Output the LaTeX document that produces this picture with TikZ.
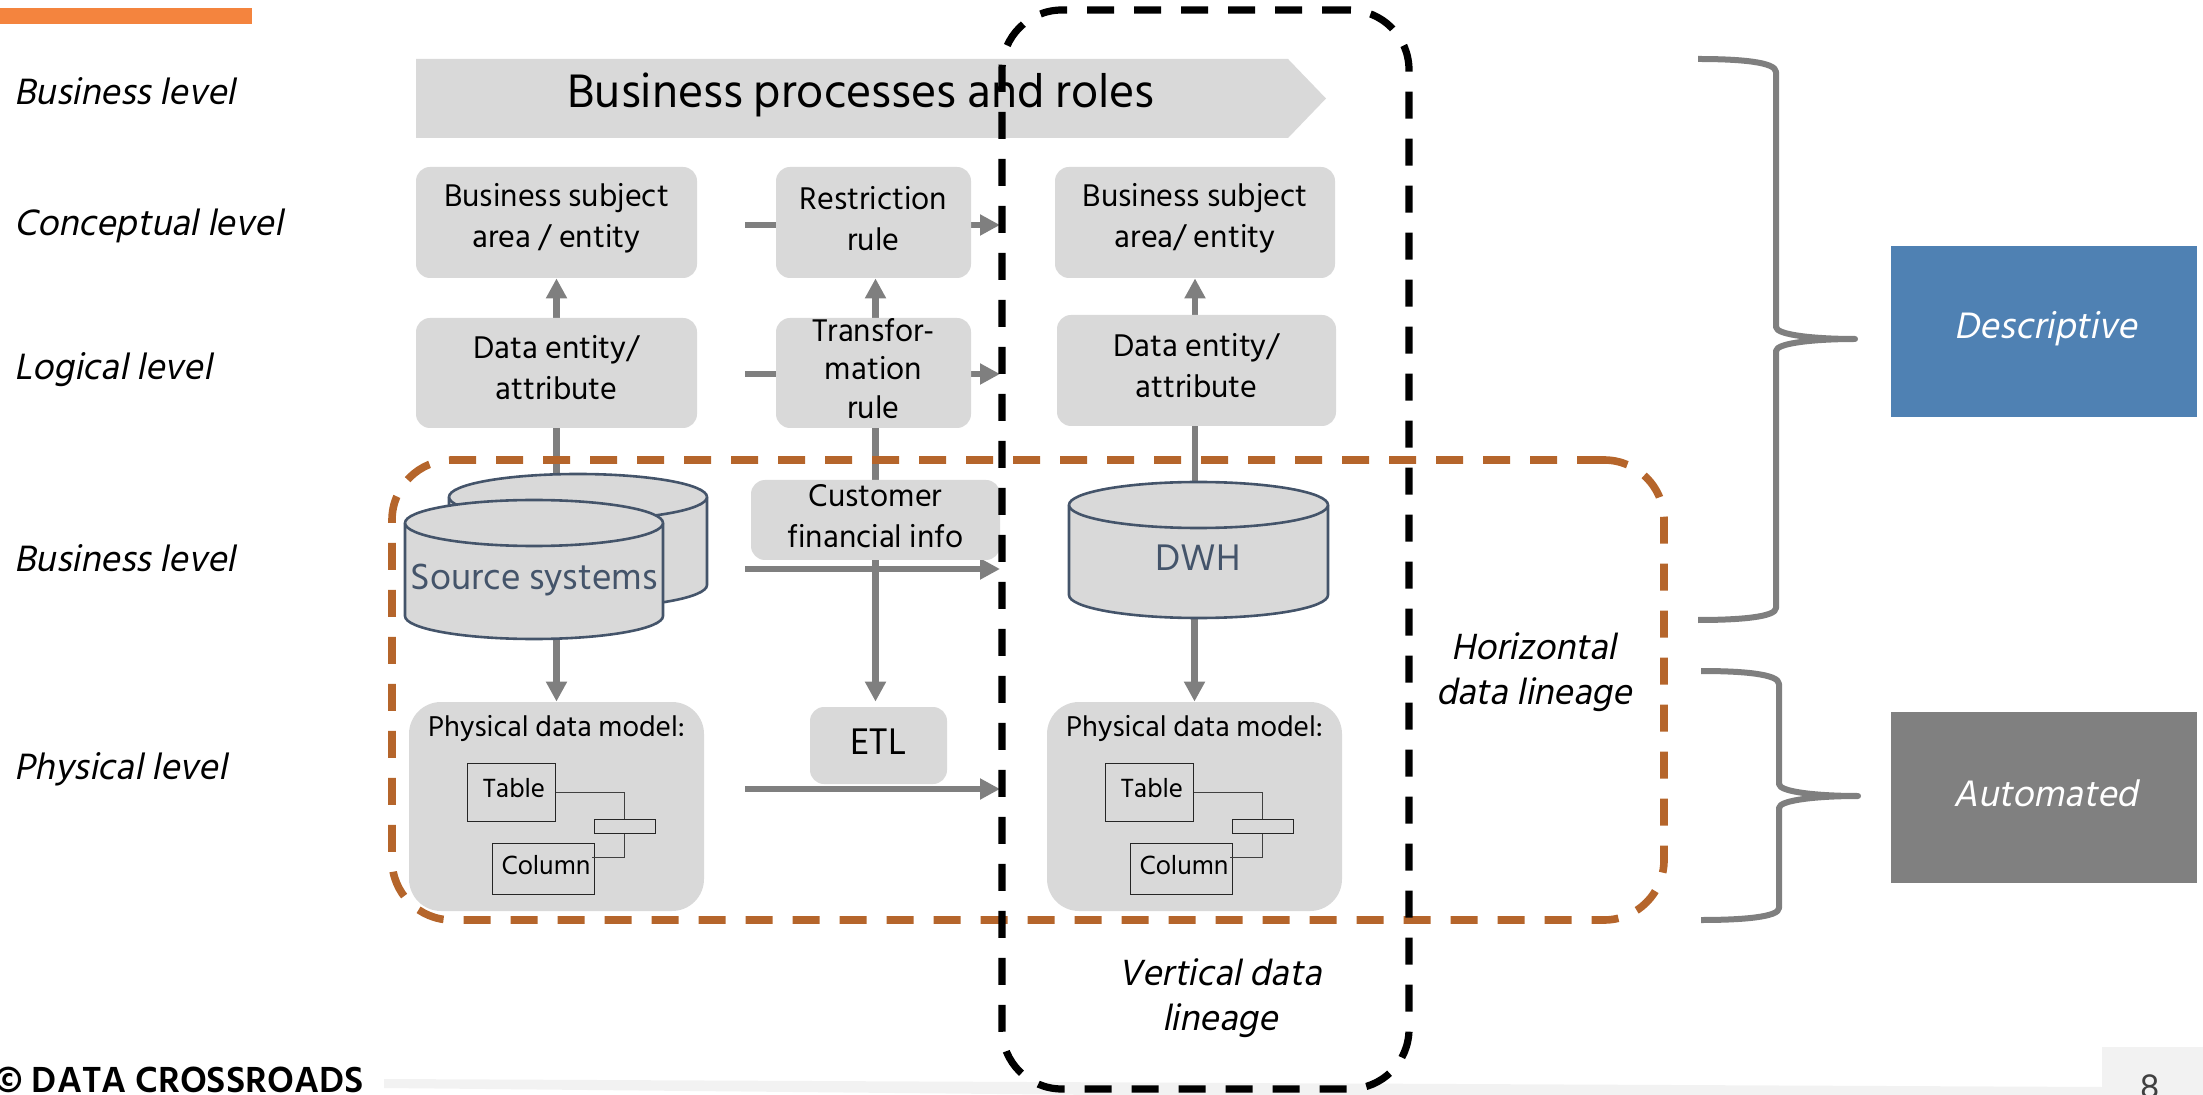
\documentclass[tikz,border=0pt]{standalone}
\usepackage{fontspec}
\setmainfont{Hind Siliguri}
\newfontfamily\hindit[FakeSlant=0.2]{Hind Siliguri}
\usetikzlibrary{fit,arrows.meta,backgrounds}
\definecolor{boxgray}{HTML}{D9D9D9}
\definecolor{linegray}{HTML}{7F7F7F}
\definecolor{slate}{HTML}{44546A}
\definecolor{rust}{HTML}{B5652B}
\definecolor{barorange}{HTML}{F4843E}
\definecolor{bluebox}{HTML}{4F81B3}
\definecolor{pale}{HTML}{F2F2F2}
\newcommand{\fs}[1]{\fontsize{#1}{#1}\selectfont}
\tikzset{
 box/.style={fill=boxgray,rounded corners=7pt,inner sep=0pt},
 boxtext/.style={inner sep=0pt,align=center,font=\fs{16.1}\linespread{1.27}\selectfont},
 bigbox/.style={fill=boxgray,rounded corners=16pt,inner sep=0pt},
 arr/.style={draw=linegray,line width=3.4pt,-{Triangle[length=10pt,width=10pt]}},
 plainline/.style={draw=linegray,line width=3.4pt},
 lvl/.style={anchor=west,inner sep=0pt,font=\hindit\fs{18.8}},
 lincap/.style={inner sep=0pt,align=center,font=\hindit\fs{18.7}\linespread{1.2}\selectfont},
 tag/.style={inner sep=0pt,text=white,font=\hindit\fs{18.9}},
 cyl/.style={fill=boxgray,draw=slate,line width=1.3pt},
 tinybox/.style={draw=black!85,line width=.5pt,fill=boxgray,inner sep=0pt},
 wire/.style={draw=black!75,line width=.5pt},
 brace/.style={draw=linegray,line width=3pt,line join=round},
 dashv/.style={draw=black,line width=3.6pt,rounded corners=30pt,dash pattern=on 13.5pt off 10pt,inner sep=0pt},
 dashh/.style={draw=rust,line width=3.8pt,rounded corners=30pt,dash pattern=on 13.5pt off 10pt,inner sep=0pt},
}
\begin{document}
\begin{tikzpicture}[x=0.5pt,y=-0.5pt]
\clip (0,0) rectangle (2203,1095);
% footer
\fill[pale] (384,1079) -- (2103,1087) -- (2103,1095) -- (1100,1095) -- (384,1088) -- cycle;
\node[fill=pale,minimum width=50.5pt,minimum height=24pt,inner sep=0pt,anchor=north west] (pg) at (2102,1047) {};
\node[inner sep=0pt,text=black!75,font=\fs{18}] (pgn) at (2150,1087) {8};
\node[anchor=west,inner sep=0pt,font=\bfseries\fs{18.6}] (foot) at (-6,1080) {© DATA CROSSROADS};
\node[fill=barorange,inner sep=0pt,minimum width=126pt,minimum height=8pt,anchor=north west] (bar) at (0,8) {};
% level labels
\node[lvl] (l1) at (14,91) {Business level};
\node[lvl] (l2) at (14,226) {Conceptual level};
\node[lvl] (l3) at (14,370) {Logical level};
\node[lvl] (l4) at (14,558) {Business level};
\node[lvl] (l5) at (14,769) {Physical level};
% process banner
\path[fill=boxgray] (416,59) -- (1288,59) -- (1326,98.5) -- (1288,138) -- (416,138) -- cycle;
\node[inner sep=0pt,font=\fs{24.1}] (proc) at (861,95) {Business processes and roles};
% free ends
\coordinate (c1a) at (745,225); \coordinate (c1b) at (1000,225);
\coordinate (c2a) at (745,374); \coordinate (c2b) at (1000,374);
\coordinate (c3a) at (745,569); \coordinate (c3b) at (1000,569);
\coordinate (c4a) at (745,789); \coordinate (c4b) at (1000,789);
\coordinate (midx) at (875.5,0);
% boxes
\node[box,fit={(416,167)(697,278)},label={[boxtext,yshift=2.1pt]center:{Business subject\\area / entity}}] (bsa1) {};
\node[box,fit={(776,167)(971,278)},label={[boxtext,yshift=2.1pt]center:{Restriction\\rule}}] (rr) {};
\node[box,fit={(1055,167)(1335,278)},label={[boxtext,yshift=2.1pt]center:{Business subject\\area/ entity}}] (bsa2) {};
\node[box,fit={(416,318)(697,428)},label={[boxtext,yshift=2.8pt]center:{Data entity/\\attribute}}] (de1) {};
\node[box,fit={(776,318)(971,428)},label={[boxtext,yshift=2.2pt,font=\fs{16.1}\linespread{1.2}\selectfont]center:{Transfor-\\mation\\rule}}] (tr) {};
\node[box,fit={(1057,315)(1336,426)},label={[boxtext,yshift=2.5pt]center:{Data entity/\\attribute}}] (de2) {};
\node[box,fit={(751,480)(1000,560)},label={[boxtext,yshift=2.1pt]center:{Customer\\financial info}}] (cust) {};
\node[box,fit={(810,707)(947,784)},label={[boxtext,yshift=2.1pt,font=\fs{19}]center:{ETL}}] (etl) {};
% cylinders
\path[cyl] (449,497) -- (449,585) arc[start angle=180,end angle=360,x radius=129,y radius=-23] -- (707,497) arc[start angle=0,end angle=180,x radius=129,y radius=-23] -- cycle;
\path[cyl] (449,497) arc[start angle=180,end angle=360,x radius=129,y radius=-23];
\path[cyl] (405,523) -- (405,616) arc[start angle=180,end angle=360,x radius=129,y radius=-23] -- (663,523) arc[start angle=0,end angle=180,x radius=129,y radius=-23] -- cycle;
\path[cyl] (405,523) arc[start angle=180,end angle=360,x radius=129,y radius=-23];
\node[inner sep=0pt,text=slate,font=\fs{18.7}] (src) at (534,580) {Source systems};
\path[cyl] (1069,505) -- (1069,595) arc[start angle=180,end angle=360,x radius=129.5,y radius=-23] -- (1328,505) arc[start angle=0,end angle=180,x radius=129.5,y radius=-23] -- cycle;
\path[cyl] (1069,505) arc[start angle=180,end angle=360,x radius=129.5,y radius=-23];
\node[inner sep=0pt,text=slate,font=\fs{19}] (dwh) at (1198,558) {DWH};
\coordinate (srcbot) at (534,639); \coordinate (srctop) at (534,475);
\coordinate (dwhbot) at (1198,618); \coordinate (dwhtop) at (1198,482);
% physical models
\foreach \nm/\dx in {a/0,b/638}{
 \begin{scope}[xshift=\dx*0.5pt]
 \node[bigbox,fit={(409,702)(704,911)}] (pm\nm) {};
 \node[inner sep=0pt,font=\fs{14.7}] (pmt\nm) at (556.5,729) {Physical data model:};
 \node[tinybox,fit={(467.5,763)(555,821)}] (tb\nm) {};
 \node[inner sep=0pt,font=\fs{13.5}] (tbt\nm) at (514,788) {Table};
 \node[tinybox,fit={(492,843)(594,894)}] (cl\nm) {};
 \node[inner sep=0pt,font=\fs{13.5}] (clt\nm) at (546,865) {Column};
 \node[tinybox,fit={(594,819)(655,833)}] (rl\nm) {};
 \draw[wire] (tb\nm.east) -| (rl\nm.north);
 \draw[wire] (rl\nm.south) |- (592,857);
 \end{scope}
}
% connectors beneath the boxes
\begin{scope}[on background layer]
\draw[arr] (c1a) -- (c1b);
\draw[arr] (c2a) -- (c2b);
\draw[arr] (c3a) -- (c3b);
\draw[arr] (c4a) -- (c4b);
\draw[arr] (de1.north) -- (bsa1.south);
\draw[arr] (tr.north -| midx) -- (rr.south -| midx);
\draw[arr] (de2.north -| bsa2.south) -- (bsa2.south);
\draw[plainline] (de1.south) -- (de1.south |- srctop);
\draw[plainline] (de2.south -| bsa2.south) -- (bsa2.south |- dwhtop);
\draw[arr,shorten >=2.5pt] (tr.south -| midx) -- (etl.north -| midx);
\draw[arr] (pma.north |- srcbot) -- (pma.north);
\draw[arr] (pmb.north |- dwhbot) -- (pmb.north);
\end{scope}
% dashed regions
\node[dashh,fit={(392,460)(1664,920)}] (horiz) {};
\node[dashv,fit={(1002,10)(1409,1089)}] (vert) {};
\node[lincap] (hlab) at (1534,672) {Horizontal\\data lineage};
\node[lincap] (vlab) at (1220,998) {Vertical data\\lineage};
% braces
\coordinate (b1s) at (1698,59); \coordinate (b1t) at (1855,339); \coordinate (b1e) at (1698,620);
\coordinate (b2s) at (1701,671); \coordinate (b2t) at (1858,796); \coordinate (b2e) at (1701,920);
\draw[brace] (b1s) .. controls (1740,59) and (1776,62) .. (1776,72) -- (1776,327) .. controls (1776,335) and (1815,339) .. (b1t) .. controls (1815,339) and (1776,343) .. (1776,351) -- (1776,608) .. controls (1776,617) and (1740,620) .. (b1e);
\draw[brace] (b2s) .. controls (1743,671) and (1779,674) .. (1779,684) -- (1779,784) .. controls (1779,792) and (1818,796) .. (b2t) .. controls (1818,796) and (1779,800) .. (1779,808) -- (1779,908) .. controls (1779,917) and (1743,920) .. (b2e);
% tags
\fill[bluebox] (1891,246) rectangle (2197,417);
\fill[black!50] (1891,712) rectangle (2197,883);
\node[tag] (desc) at (2046,329) {Descriptive};
\node[tag] (auto) at (2046,793) {Automated};
\end{tikzpicture}
\end{document}
